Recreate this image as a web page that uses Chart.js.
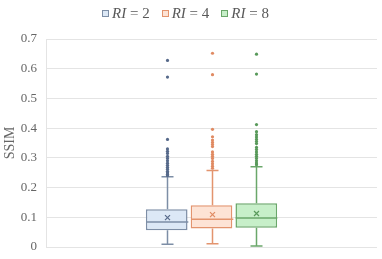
<!DOCTYPE html>
<html>
<head>
<meta charset="utf-8">
<script src="https://cdn.jsdelivr.net/npm/chart.js@4/dist/chart.umd.min.js"></script>
<style>
  html, body { margin:0; padding:0; background:#fff; }
  #wrap { position:relative; width:382px; height:259px; }
  #legend { position:absolute; left:102px; top:5px; display:flex; align-items:center;
    font-family:'Liberation Serif','Times New Roman',serif; font-size:15px; color:#595959; white-space:nowrap; }
  .item { display:flex; align-items:center; margin-right:12px; }
  .sw { width:5px; height:5px; border:1px solid; margin-right:3px; }
  .item i { font-style:italic; }
</style>
</head>
<body>
<div id="wrap">
  <canvas id="c" width="382" height="259"></canvas>
  <div id="legend"></div>
</div>
<script>
const categories = [''];
const seriesNames = ['RI = 2', 'RI = 4', 'RI = 8'];
const yTicks = [0, 0.1, 0.2, 0.3, 0.4, 0.5, 0.6, 0.7];
const minVals    = [0.009, 0.011, 0.003];
const q1Vals     = [0.056, 0.062, 0.065];
const medianVals = [0.084, 0.093, 0.098];
const q3Vals     = [0.127, 0.1405, 0.147];
const maxVals    = [0.236, 0.2575, 0.270];
const meanVals   = [0.099, 0.109, 0.1126];
const outliersRI2 = [0.628, 0.572, 0.362, 0.33, 0.322, 0.315, 0.305, 0.298, 0.29, 0.282, 0.275, 0.268, 0.262, 0.255, 0.25, 0.245, 0.24];
const outliersRI4 = [0.652, 0.58, 0.396, 0.371, 0.36, 0.352, 0.345, 0.338, 0.32, 0.312, 0.305, 0.298, 0.288, 0.28, 0.272, 0.265];
const outliersRI8 = [0.649, 0.582, 0.412, 0.388, 0.378, 0.37, 0.362, 0.355, 0.348, 0.335, 0.328, 0.32, 0.312, 0.305, 0.298, 0.29, 0.283, 0.277];
const outliers = [outliersRI2, outliersRI4, outliersRI8];

const fills   = ['#dce8f6', '#fde3d5', '#c7efc9'];
const borders = ['#7d8ea6', '#e3946e', '#6aa76a'];
const dark    = ['#56698a', '#e08a62', '#58995a'];

// HTML legend (mixed italic text)
const lg = document.getElementById('legend');
seriesNames.forEach((n, i) => {
  const d = document.createElement('div'); d.className = 'item';
  const sw = document.createElement('span'); sw.className = 'sw';
  sw.style.background = fills[i]; sw.style.borderColor = borders[i];
  d.appendChild(sw);
  const parts = n.split(' = ');
  const t = document.createElement('span');
  t.innerHTML = '<i>' + parts[0] + '</i> = ' + parts[1];
  d.appendChild(t);
  lg.appendChild(d);
});

const boxPlugin = {
  id: 'boxExtras',
  afterDatasetsDraw(chart) {
    const ctx = chart.ctx, ys = chart.scales.y;
    chart.data.datasets.forEach((ds, i) => {
      const bar = chart.getDatasetMeta(i).data[0];
      if (!bar) return;
      const x = Math.round(bar.x) + 0.5, w = bar.width;
      const cap = 12;
      ctx.save();
      ctx.strokeStyle = borders[i];
      ctx.lineWidth = 1.5;
      const pMin = ys.getPixelForValue(minVals[i]), pMax = ys.getPixelForValue(maxVals[i]);
      const pQ1 = ys.getPixelForValue(q1Vals[i]), pQ3 = ys.getPixelForValue(q3Vals[i]);
      const pMed = ys.getPixelForValue(medianVals[i]);
      ctx.beginPath();
      ctx.moveTo(x, pQ3); ctx.lineTo(x, pMax);
      ctx.moveTo(x - cap/2, pMax); ctx.lineTo(x + cap/2, pMax);
      ctx.moveTo(x, pQ1); ctx.lineTo(x, pMin);
      ctx.moveTo(x - cap/2, pMin); ctx.lineTo(x + cap/2, pMin);
      ctx.stroke();
      ctx.beginPath();
      ctx.moveTo(x - w/2, pMed); ctx.lineTo(x + w/2, pMed);
      ctx.stroke();
      // mean marker
      const pMean = ys.getPixelForValue(meanVals[i]);
      ctx.strokeStyle = dark[i]; ctx.lineWidth = 1.2;
      ctx.beginPath();
      ctx.moveTo(x - 2.5, pMean - 2.5); ctx.lineTo(x + 2.5, pMean + 2.5);
      ctx.moveTo(x + 2.5, pMean - 2.5); ctx.lineTo(x - 2.5, pMean + 2.5);
      ctx.stroke();
      // outliers
      ctx.fillStyle = dark[i];
      outliers[i].forEach(v => {
        ctx.beginPath();
        ctx.arc(x, ys.getPixelForValue(v), 1.6, 0, Math.PI * 2);
        ctx.fill();
      });
      ctx.restore();
    });
  }
};

new Chart(document.getElementById('c'), {
  type: 'bar',
  data: {
    labels: categories,
    datasets: seriesNames.map((n, i) => ({
      label: n,
      data: [[q1Vals[i], q3Vals[i]]],
      backgroundColor: fills[i],
      borderColor: borders[i],
      borderWidth: 1.5,
      borderSkipped: false,
      categoryPercentage: 0.406,
      barPercentage: 0.93
    }))
  },
  options: {
    responsive: false,
    animation: false,
    devicePixelRatio: 1,
    layout: { padding: { top: 39, right: 5, bottom: 12, left: 0 } },
    plugins: { legend: { display: false }, tooltip: { enabled: false } },
    scales: {
      x: {
        display: false
      },
      y: {
        min: 0, max: 0.7,
        afterBuildTicks(s) { s.ticks = yTicks.map(v => ({ value: v })); },
        afterFit(s) { s.width = 46; s.paddingTop = 0; s.paddingBottom = 0; },
        grid: { color: '#e4e4e4', drawTicks: false, lineWidth: 1 },
        border: { display: true, color: '#e4e4e4' },
        ticks: {
          padding: 9,
          color: '#666666',
          font: { family: "'Liberation Serif', 'Times New Roman', serif", size: 13 },
          callback: v => String(Math.round(v * 10) / 10)
        },
        title: {
          display: true, text: 'SSIM', color: '#666666',
          padding: { top: 2, bottom: 0 },
          font: { family: "'Liberation Serif', 'Times New Roman', serif", size: 14 }
        }
      }
    }
  },
  plugins: [boxPlugin]
});
</script>
</body>
</html>
